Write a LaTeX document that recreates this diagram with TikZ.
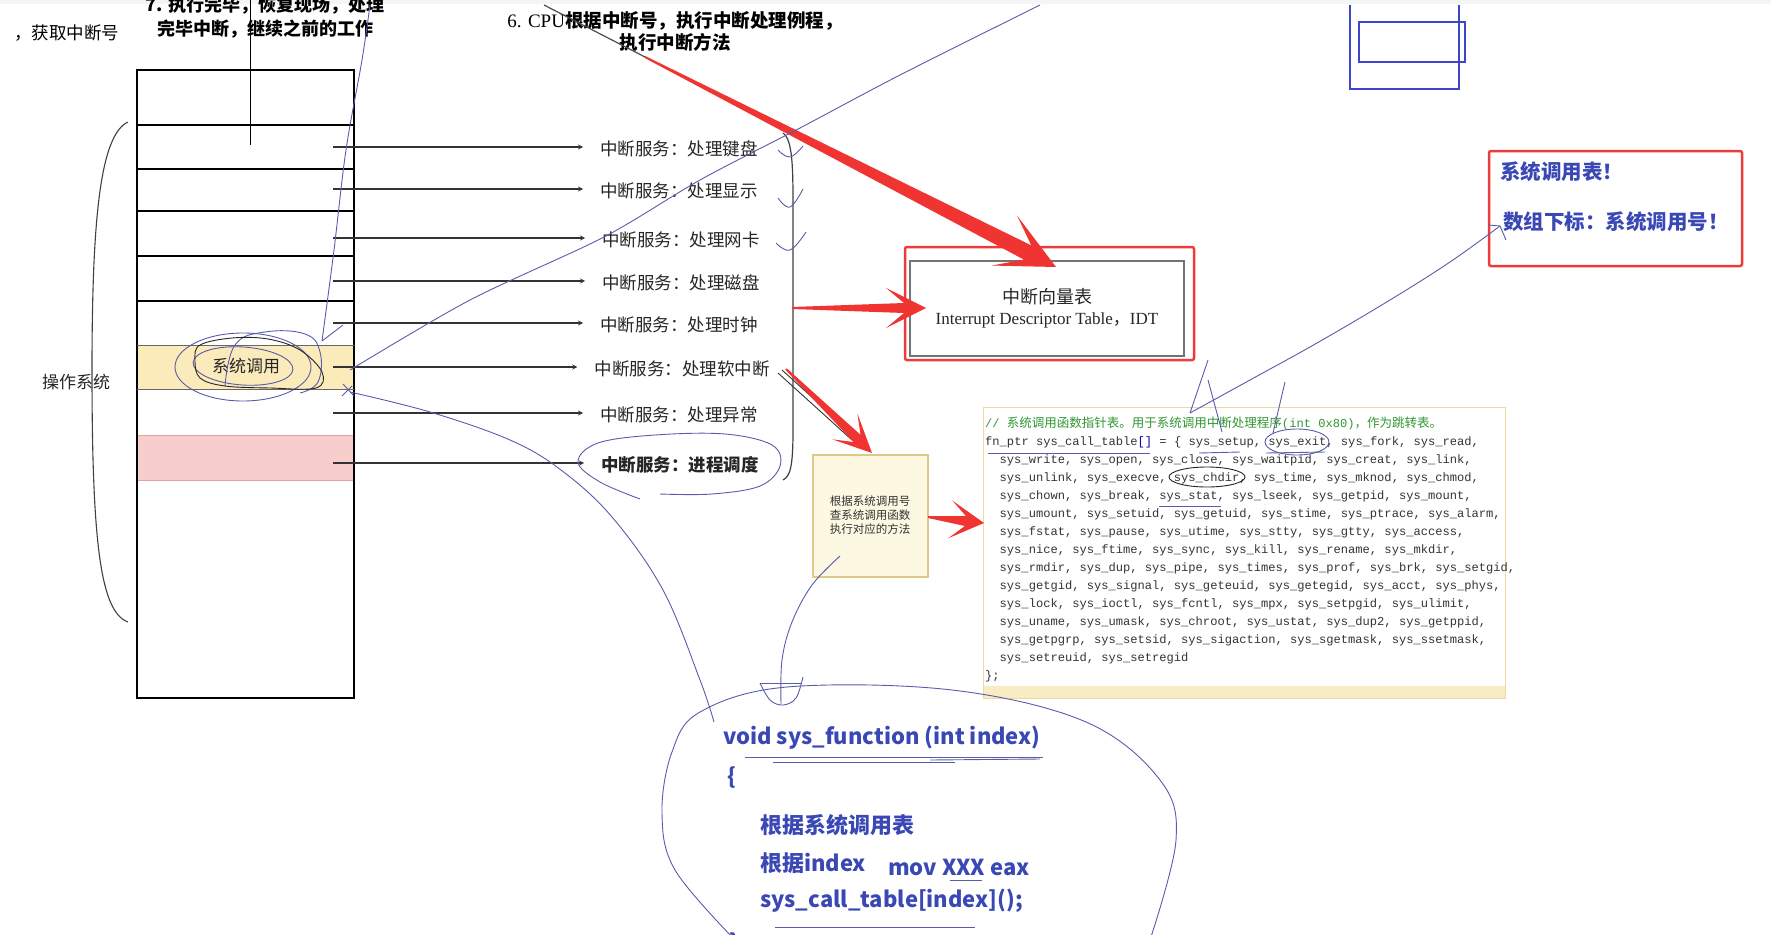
\documentclass[tikz,border=0pt]{standalone}
\usepackage{fontspec}
\setmainfont{Noto Sans CJK SC}
\newfontfamily\serif{Liberation Serif}
\newfontfamily\mono{Liberation Mono}
\usetikzlibrary{calc}

\definecolor{arrowred}{RGB}{240,52,50}
\definecolor{boxred}{RGB}{238,58,58}
\definecolor{penblue}{RGB}{88,92,170}
\definecolor{inkblue}{RGB}{58,72,182}
\definecolor{rectblue}{RGB}{62,70,200}
\definecolor{bandyellow}{RGB}{251,234,186}
\definecolor{bandpink}{RGB}{248,206,204}
\definecolor{pinkedge}{RGB}{222,165,162}
\definecolor{notefill}{RGB}{252,248,226}
\definecolor{noteedge}{RGB}{222,200,140}
\definecolor{codegreen}{RGB}{48,150,48}
\definecolor{codeedge}{RGB}{236,218,160}
\definecolor{codebar}{RGB}{248,236,196}

\newcommand{\setfs}[2]{\fontsize{#1}{#2}\selectfont}
% tapered red arrow: start, tip, head length, head half width, shaft half width
\newcommand{\redarrow}[5]{%
  \coordinate (ra-n) at ($(#2)!#3*0.55!(#1)$);
  \coordinate (ra-b) at ($(#2)!#3!(#1)$);
  \fill[arrowred] ($(#1)!1pt!90:(#2)$) -- ($(ra-n)!#5!90:(#2)$) -- ($(ra-b)!#4!90:(#2)$) -- (#2)
    -- ($(ra-b)!#4!-90:(#2)$) -- ($(ra-n)!#5!-90:(#2)$) -- ($(#1)!1pt!-90:(#2)$) -- cycle;}

\begin{document}
\begin{tikzpicture}[x=1pt,y=-1pt,
  lbl/.style={font=\setfs{17.5}{20}, text=black!85, inner xsep=17pt, inner ysep=2pt},
  arr/.style={-stealth, line width=1.2pt, black!80},
  pen/.style={penblue, line width=0.9pt},
  ink/.style={black!85, line width=0.9pt},
  codeln/.style={anchor=base west, inner sep=0pt, font=\mono\setfs{12.1}{14}, text=black!80},
  fnln/.style={anchor=base west, inner sep=0pt, font=\bfseries\setfs{22}{24}, text=inkblue}]

\useasboundingbox (0,0) rectangle (1771,934);
\clip (0,0) rectangle (1771,934);
\fill[gray!8] (0,0) rectangle (1771,4);

% captions on top
\node[font=\setfs{17.5}{20}, anchor=west, inner sep=0pt] (getnum) at (14,33) {，获取中断号};
\node[font=\bfseries\setfs{18}{24}, align=center] (step7) at (265,17) {7. 执行完毕，恢复现场，处理\\完毕中断，继续之前的工作};
\draw[line width=1pt] (250,0) -- (250,145);
\node[font=\bfseries\setfs{18.5}{22}, align=center] (step6) at (675,31) {{\serif\mdseries\setfs{19}{22}6. CPU}根据中断号，执行中断处理例程，\\执行中断方法};

% memory column
\fill[bandyellow] (137,345) rectangle (354,389);
\filldraw[fill=bandpink, draw=pinkedge] (137,435) rectangle (354,480);
\draw[line width=1.1pt] (137,70) rectangle (354,698);
\draw[line width=1.1pt] (137,125) -- (354,125);
\draw[line width=1.1pt] (137,169) -- (354,169);
\draw[line width=1.1pt] (137,211) -- (354,211);
\draw[line width=1.1pt] (137,256) -- (354,256);
\draw[line width=1.1pt] (137,301) -- (354,301);
\draw[line width=0.8pt, black!60] (137,345) -- (354,345);
\draw[line width=0.8pt, black!60] (137,389) -- (354,389);
\node[font=\setfs{17}{20}, text=black!85] (syscall) at (246,366) {系统调用};

% left brace
\draw[black!75, line width=1.1pt] (128,122) .. controls (100,135) and (92,220) .. (92,370) .. controls (92,540) and (100,612) .. (128,622);
\node[font=\setfs{17}{20}, text=black!85] (os) at (76,382) {操作系统};

% service labels
\node[lbl] (l1) at (679,149) {中断服务：处理键盘};
\node[lbl] (l2) at (679,191) {中断服务：处理显示};
\node[lbl] (l3) at (681,240) {中断服务：处理网卡};
\node[lbl] (l4) at (681,283) {中断服务：处理磁盘};
\node[lbl] (l5) at (679,325) {中断服务：处理时钟};
\node[lbl] (l6) at (682,369) {中断服务：处理软中断};
\node[lbl] (l7) at (679,415) {中断服务：处理异常};
\node[lbl, font=\bfseries\setfs{17.5}{20}] (l8) at (680,465) {中断服务：进程调度};

% arrows from the rows
\coordinate (a1) at (333,147);
\coordinate (a2) at (333,189);
\coordinate (a3) at (333,238);
\coordinate (a4) at (333,281);
\coordinate (a5) at (333,323);
\coordinate (a6) at (333,367);
\coordinate (a7) at (333,413);
\coordinate (a8) at (333,463);
\draw[arr] (a1) -- (a1 -| l1.west);
\draw[arr] (a2) -- (a2 -| l2.west);
\draw[arr] (a3) -- (a3 -| l3.west);
\draw[arr] (a4) -- (a4 -| l4.west);
\draw[arr] (a5) -- (a5 -| l5.west);
\draw[arr] (a6) -- (a6 -| l6.west);
\draw[arr] (a7) -- (a7 -| l7.west);
\draw[arr] (a8) -- (a8 -| l8.west);

% right brace
\draw[black!75, line width=1.2pt] (783,133) .. controls (793,140) and (793,170) .. (793,210) -- (793,430) .. controls (793,468) and (790,476) .. (783,480);
\coordinate (br) at (792,308);
\draw[gray, line width=1.2pt] (br) -- (870,308);

% interrupt descriptor table
\node[draw=boxred, line width=2.5pt, rounded corners=2pt, minimum width=289pt, minimum height=113pt] (idt) at (1049.5,303.5) {};
\node[draw=black!55, line width=1.5pt, minimum width=274pt, minimum height=95pt] (idtin) at (1047,308.5) {};
\node[font=\setfs{18}{22}, text=black!85] (idt1) at (1047,297) {中断向量表};
\node[font=\setfs{17}{20}, text=black!85] (idt2) at (1047,320) {{\serif Interrupt Descriptor Table}，{\serif IDT}};

% system call table box
\node[draw=boxred, line width=2.5pt, rounded corners=2pt, minimum width=253pt, minimum height=115pt] (tbl) at (1615.5,208.5) {};
\node[font=\bfseries\setfs{20.5}{24}, text=inkblue, anchor=west, inner sep=0pt] (tbl1) at (1500,172) {系统调用表！};
\node[font=\bfseries\setfs{20.5}{24}, text=inkblue, anchor=west, inner sep=0pt] (tbl2) at (1503,222) {数组下标：系统调用号！};

% blue rectangles top right
\draw[rectblue, line width=2.5pt] (1350,5) -- (1350,89) -- (1459,89) -- (1459,5);
\draw[rectblue, line width=2.5pt] (1359,22) rectangle (1465,62);

% note box
\node[draw=noteedge, fill=notefill, line width=1.2pt, minimum width=115pt, minimum height=122pt] (note) at (870.5,516) {};
\node[font=\setfs{11.5}{13.7}, align=center, text=black!80] (notetxt) at (870,515) {根据系统调用号\\查系统调用函数\\执行对应的方法};

% code box
\node[draw=codeedge, fill=white, line width=1.2pt, minimum width=522pt, minimum height=291pt, anchor=north west, inner sep=0pt] (codebox) at (983,407) {};
\fill[codebar] (984,686) rectangle (1505,698);
\node[anchor=base west, inner sep=0pt, font=\setfs{12.5}{15}, text=codegreen] (c0) at (985,427) {{\mono\setfs{12.1}{15}// }系统调用函数指针表。用于系统调用中断处理程序{\mono\setfs{12.1}{15}(int 0x80)}，作为跳转表。};
\node[codeln] (c1) at (985,445.07) {fn\_ptr sys\_call\_table\textcolor{blue!70!black}{[]} = \{ sys\_setup, sys\_exit, sys\_fork, sys\_read,};
\node[codeln] (c2) at (999.5,463.14) {sys\_write, sys\_open, sys\_close, sys\_waitpid, sys\_creat, sys\_link,};
\node[codeln] (c3) at (999.5,481.21) {sys\_unlink, sys\_execve, sys\_chdir, sys\_time, sys\_mknod, sys\_chmod,};
\node[codeln] (c4) at (999.5,499.28) {sys\_chown, sys\_break, sys\_stat, sys\_lseek, sys\_getpid, sys\_mount,};
\node[codeln] (c5) at (999.5,517.35) {sys\_umount, sys\_setuid, sys\_getuid, sys\_stime, sys\_ptrace, sys\_alarm,};
\node[codeln] (c6) at (999.5,535.42) {sys\_fstat, sys\_pause, sys\_utime, sys\_stty, sys\_gtty, sys\_access,};
\node[codeln] (c7) at (999.5,553.49) {sys\_nice, sys\_ftime, sys\_sync, sys\_kill, sys\_rename, sys\_mkdir,};
\node[codeln] (c8) at (999.5,571.56) {sys\_rmdir, sys\_dup, sys\_pipe, sys\_times, sys\_prof, sys\_brk, sys\_setgid,};
\node[codeln] (c9) at (999.5,589.63) {sys\_getgid, sys\_signal, sys\_geteuid, sys\_getegid, sys\_acct, sys\_phys,};
\node[codeln] (c10) at (999.5,607.7) {sys\_lock, sys\_ioctl, sys\_fcntl, sys\_mpx, sys\_setpgid, sys\_ulimit,};
\node[codeln] (c11) at (999.5,625.77) {sys\_uname, sys\_umask, sys\_chroot, sys\_ustat, sys\_dup2, sys\_getppid,};
\node[codeln] (c12) at (999.5,643.84) {sys\_getpgrp, sys\_setsid, sys\_sigaction, sys\_sgetmask, sys\_ssetmask,};
\node[codeln] (c13) at (999.5,661.91) {sys\_setreuid, sys\_setregid};
\node[codeln] (c14) at (985,679.98) {\};};

% sys_function sketch
\node[fnln] (fn1) at (723,744) {void sys\_function (int index)};
\node[fnln] (fn2) at (727,784) {\{};
\node[fnln] (fn3) at (760,833) {根据系统调用表};
\node[fnln] (fn4) at (760,871) {根据index};
\node[fnln] (fn5) at (888,875) {mov XXX eax};
\node[fnln] (fn6) at (760,907) {sys\_call\_table[index]();};
\node[fnln] (fn7) at (729,950) {\}};

% red arrows
\coordinate (g1) at (544,5);
\coordinate (r1) at (645,57);
\coordinate (t1) at (1056,267);
\draw[gray!60!black, line width=1.2pt] (g1) -- (r1);
\redarrow{r1}{t1}{58pt}{28pt}{8pt}
\coordinate (t2) at (926,308);
\redarrow{br}{t2}{40pt}{20pt}{5pt}
\coordinate (r3) at (786,369);
\coordinate (t3) at (872,453);
\draw[black!80, line width=0.9pt] (778,373) -- (852,440);
\draw[black!80, line width=0.9pt] (782,370) -- (856,437);
\redarrow{r3}{t3}{38pt}{18pt}{5pt}
\coordinate (r4) at (928,517);
\coordinate (t4) at (984,523);
\draw[black!80, line width=1pt] (r4) -- (942,518);
\redarrow{r4}{t4}{34pt}{19pt}{5pt}

% pen strokes
\draw[pen] plot[smooth, tension=0.6] coordinates {(370,5) (362,60) (346,150) (334,250) (322,341)};
\draw[pen] (343,325) -- (322,341);
\draw[pen] plot[smooth, tension=0.5] coordinates {(350,370) (470,300) (604,237) (700,180) (800,128) (900,75) (1040,5)};
\draw[pen] plot[smooth, tension=0.6] coordinates {(350,392) (430,412) (510,440) (561,470) (612,517) (663,590) (700,680) (714,722)};
\draw[pen] (343,384) -- (354,396) (342,396) -- (352,386);
\draw[pen, rotate around={-4:(243,366)}] (243,366) ellipse [x radius=50pt, y radius=19pt];
\draw[pen] (243,367) ellipse [x radius=68pt, y radius=34pt];
\draw[pen] plot[smooth, tension=0.7] coordinates {(225,386) (235,345) (265,332) (305,334) (320,352) (318,382) (300,393)};
\draw[ink] plot[smooth cycle, tension=0.6] coordinates {(200,345) (232,338) (268,339) (300,350) (322,372) (316,388) (270,388) (225,386) (200,378) (195,360)};
\draw[pen] plot[smooth, tension=0.6] coordinates {(640,499) (600,482) (578,462) (598,443) (655,435) (725,434) (772,445) (780,466) (760,486) (712,494) (660,494)};
\draw[pen] plot[smooth, tension=0.7] coordinates {(778,150) (790,157) (803,146)};
\draw[pen] plot[smooth, tension=0.7] coordinates {(778,198) (790,207) (803,189)};
\draw[pen] plot[smooth, tension=0.7] coordinates {(776,243) (790,250) (806,232)};
% from note box to the function
\draw[pen] plot[smooth, tension=0.6] coordinates {(840,556) (812,585) (792,622) (782,660) (781,704)};
\draw[pen] plot[smooth, tension=0.6] coordinates {(760,683) (770,700) (783,705) (796,698) (803,677)};
\draw[pen] (760,683) -- (801,683);
% ring round the function
\draw[pen] plot[smooth, tension=0.6] coordinates {(735,940) (675,870) (662,813) (672,752) (700,712) (787,687) (952,690) (1086,722) (1160,780) (1176,840) (1150,940)};
\draw[pen] (745,757) -- (1043,757);
\draw[pen] (773,762) -- (955,762);
\draw[pen] (930,760) -- (1040,759);
\draw[pen] (775,927) -- (975,927);
\draw[pen] (950,880) -- (982,880);
% marks on the table
\draw[pen] plot[smooth, tension=0.6] coordinates {(1190,413) (1250,380) (1317,343) (1390,300) (1450,262) (1500,226)};
\draw[pen] (1488,225) -- (1500,226) -- (1506,240);
\draw[pen] (1208,360) -- (1190,413);
\draw[pen] (1208,380) -- (1222,432);
\draw[pen] (1285,382) -- (1273,433);
\draw[pen] (1297,442) ellipse [x radius=32pt, y radius=13pt];
\draw[ink] (1207,477) ellipse [x radius=38pt, y radius=10pt];
\draw[pen] (988,453) -- (1150,453);
\draw[pen] (1199,453) -- (1240,452);
\draw[pen] (1266,453) -- (1325,452);
\draw[pen] (1159,506) -- (1221,506);

\end{tikzpicture}
\end{document}
